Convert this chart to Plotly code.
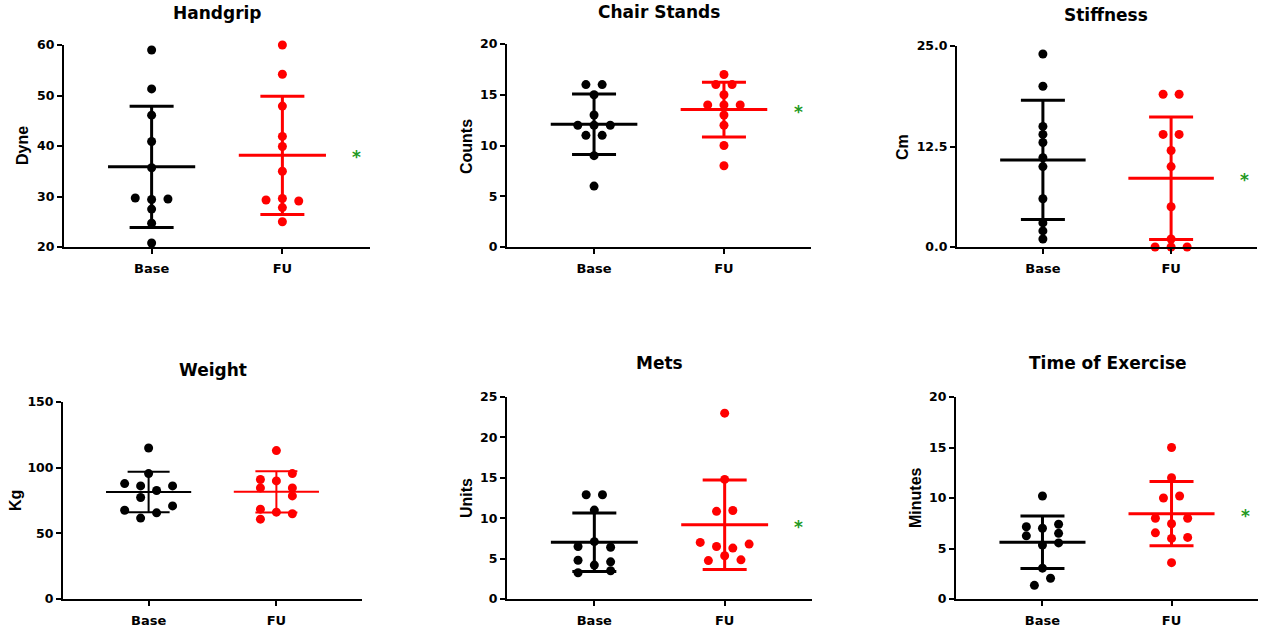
import numpy as np
import plotly.graph_objects as go

# ---------------- data ----------------
categories = ["Base", "FU"]
titles = ["Handgrip", "Chair Stands", "Stiffness", "Weight", "Mets", "Time of Exercise"]
y_labels = ["Dyne", "Counts", "Cm", "Kg", "Units", "Minutes"]
significance = ["*", "*", "*", "", "*", "*"]

handgrip_base = [59.0, 51.3, 46.1, 40.9, 35.7, 29.7, 29.4, 29.5, 27.5, 24.7, 20.8]
handgrip_fu = [60.0, 54.2, 47.9, 41.9, 39.9, 35.0, 29.3, 29.6, 29.1, 27.8, 25.0]

chair_base = [16, 16, 15, 13, 12, 12, 12, 11, 11, 9, 6]
chair_fu = [17, 16, 16, 15, 14, 14, 14, 13, 12, 10, 8]

stiffness_base = [24, 20, 15, 14, 13, 11.1, 10, 6, 3, 2, 1]
stiffness_fu = [19, 19, 14, 14, 12, 10, 5, 1, 0, 0, 0]

weight_base = [115.0, 95.5, 87.9, 86.1, 82.6, 86.1, 77.3, 70.9, 67.6, 65.6, 61.6]
weight_fu = [113.0, 95.5, 91.0, 89.9, 84.6, 84.6, 78.5, 68.4, 66.1, 64.9, 60.8]

mets_base = [12.9, 12.9, 11.0, 7.1, 6.5, 6.4, 4.8, 4.6, 4.2, 3.25, 3.5]
mets_fu = [23.0, 14.8, 10.85, 10.95, 7.0, 6.5, 6.3, 6.8, 5.35, 4.75, 4.85]

time_base = [10.2, 7.15, 7.4, 7.0, 6.25, 6.5, 5.35, 5.55, 3.05, 2.05, 1.35]
time_fu = [15.0, 12.0, 10.0, 10.2, 8.0, 8.0, 7.45, 6.55, 6.0, 6.1, 3.6]

y_ranges = [[20, 60], [0, 20], [0, 25], [0, 150], [0, 25], [0, 20]]
y_tickvals = [[20, 30, 40, 50, 60], [0, 5, 10, 15, 20], [0, 12.5, 25],
              [0, 50, 100, 150], [0, 5, 10, 15, 20, 25], [0, 5, 10, 15, 20]]
y_ticktext = [["20", "30", "40", "50", "60"], ["0", "5", "10", "15", "20"],
              ["0.0", "12.5", "25.0"], ["0", "50", "100", "150"],
              ["0", "5", "10", "15", "20", "25"], ["0", "5", "10", "15", "20"]]

panels = [
    (handgrip_base, handgrip_fu),
    (chair_base, chair_fu),
    (stiffness_base, stiffness_fu),
    (weight_base, weight_fu),
    (mets_base, mets_fu),
    (time_base, time_fu),
]

# ---------------- layout / style (positions, not data) ----------------
W, H = 1262, 627
# horizontal beeswarm slots (units of half spacing) for each point
slots = [
    ([0, 0, 0, 0, 0, -2, 0, 2, 0, 0, 0], [0, 0, 0, 0, 0, 0, -2, 0, 2, 0, 0]),
    ([-1, 1, 0, 0, -2, 0, 2, -1, 1, 0, 0], [0, -1, 1, 0, -2, 0, 2, 0, 0, 0, 0]),
    ([0] * 11, [-1, 1, -1, 1, 0, 0, 0, 0, -2, 0, 2]),
    ([0, 0, -3, -1, 1, 3, -1, 3, -3, 1, -1], [0, 2, -2, 0, -2, 2, 2, -2, 0, 2, -2]),
    ([-1, 1, 0, 0, -2, 2, -2, 2, 0, -2, 2], [0, 0, -1, 1, -3, -1, 1, 3, 0, -2, 2]),
    ([0, -2, 2, 0, -2, 2, 0, 2, 0, 1, -1], [0, 0, -1, 1, -2, 2, 0, -2, 0, 2, 0]),
]
half_step = 0.0625
x_dom_px = [(64, 370), (507, 811), (957, 1257), (63, 362), (507, 812), (956, 1258)]
y_dom_px = [(45, 247), (44, 247), (46, 247), (402, 599), (397, 599), (397, 599)]
title_px = [(217, 13), (659, 12), (1106, 15), (213, 370), (659, 363), (1108, 363)]
ylabel_px = [(23, 146), (466, 147), (902, 147), (16, 501), (466, 498), (915, 498)]
line_w = [3, 3, 3, 2, 3, 3]
cap_w = [22, 22, 22, 21, 22, 22]
colors = ["black", "#ff0000"]
star_color = "#229922"
FONT = "DejaVu Sans"
LABEL_FONT = "Liberation Sans, Arial, sans-serif"

fig = go.Figure()
annotations = []

for i, (groups, sl) in enumerate(zip(panels, slots)):
    n = i + 1
    xa, ya = f"x{n}", f"y{n}"
    for g, (vals, s, col) in enumerate(zip(groups, sl, colors)):
        c = g + 1
        v = np.array(vals, dtype=float)
        m = v.mean()
        sd = v.std(ddof=1)
        # error bar (SD)
        fig.add_trace(go.Scatter(
            x=[c], y=[m], mode="markers", xaxis=xa, yaxis=ya,
            marker=dict(size=1, color=col),
            error_y=dict(type="data", array=[sd], visible=True, width=cap_w[i],
                         thickness=line_w[i], color=col),
            hoverinfo="skip", showlegend=False))
        # mean line
        fig.add_trace(go.Scatter(
            x=[c - 1 / 3, c + 1 / 3], y=[m, m], mode="lines", xaxis=xa, yaxis=ya,
            line=dict(color=col, width=line_w[i]), hoverinfo="skip", showlegend=False))
        # points
        fig.add_trace(go.Scatter(
            x=c + np.array(s) * half_step, y=v, mode="markers", xaxis=xa, yaxis=ya,
            marker=dict(size=9, color=col), cliponaxis=False, showlegend=False,
            name=categories[g]))
        if g == 1 and significance[i]:
            annotations.append(dict(
                x=2.57, y=m, xref=xa, yref=ya, text=f"<b>{significance[i]}</b>",
                showarrow=False, yshift=-2,
                font=dict(family=FONT, size=17, color=star_color)))

    (l, r), (t, b) = x_dom_px[i], y_dom_px[i]
    axis_common = dict(showline=True, linecolor="black", linewidth=2, ticks="outside",
                       ticklen=5, tickwidth=2, tickcolor="black", showgrid=False,
                       zeroline=False, fixedrange=True, automargin=False)
    fig.update_layout(**{
        f"xaxis{n}": dict(domain=[l / W, r / W], range=[0.33, 2.67], anchor=ya,
                          tickvals=[1, 2], ticktext=categories, ticklabelstandoff=3,
                          tickfont=dict(family=FONT, size=13, color="black", weight="bold"),
                          **axis_common),
        f"yaxis{n}": dict(domain=[1 - b / H, 1 - t / H], range=y_ranges[i], anchor=xa,
                          tickvals=y_tickvals[i], ticktext=y_ticktext[i],
                          tickfont=dict(family=FONT, size=12.5, color="black", weight="bold"),
                          **axis_common),
    })
    tx, ty = title_px[i]
    annotations.append(dict(x=tx / W, y=1 - ty / H, xref="paper", yref="paper",
                            text=f"<b>{titles[i]}</b>", showarrow=False,
                            xanchor="center", yanchor="middle",
                            font=dict(family=FONT, size=17, color="black")))
    lx, ly = ylabel_px[i]
    annotations.append(dict(x=lx / W, y=1 - ly / H, xref="paper", yref="paper",
                            text=f"<b>{y_labels[i]}</b>", showarrow=False, textangle=-90,
                            xanchor="center", yanchor="middle",
                            font=dict(family=LABEL_FONT, size=16, color="black")))

fig.update_layout(width=W, height=H,
                  margin=dict(l=0, r=0, t=0, b=0, pad=0, autoexpand=False),
                  plot_bgcolor="white", paper_bgcolor="white", showlegend=False,
                  annotations=annotations)

fig.write_html(
    "out.html",
    config={"displayModeBar": False},
    post_script="document.body.style.margin='0';document.body.style.overflow='hidden';",
)
